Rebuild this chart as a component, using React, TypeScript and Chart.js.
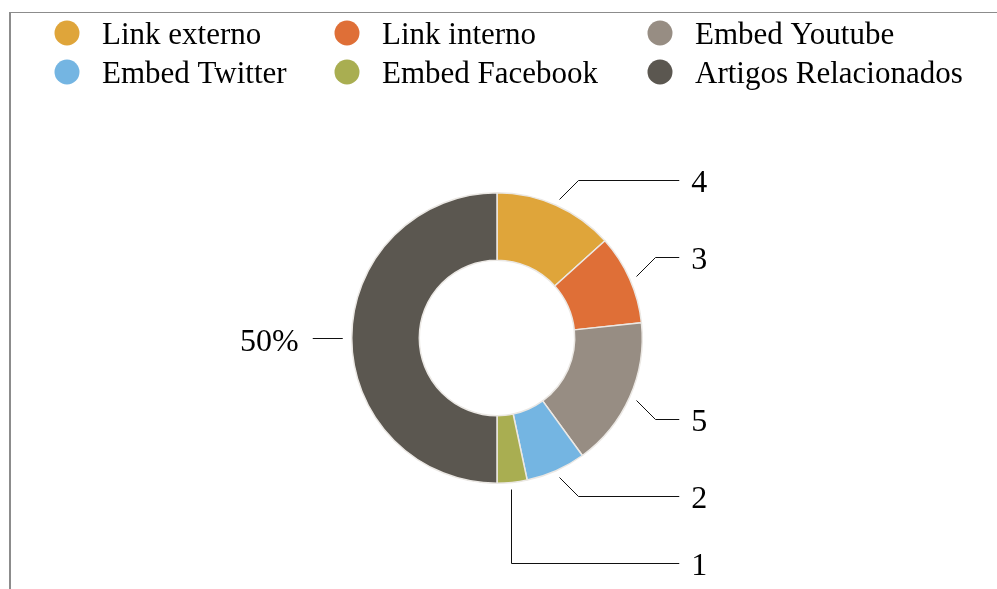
import React, { useEffect, useRef } from "react";
import { Chart, registerables } from "chart.js";

Chart.register(...registerables);

const categories = [
  "Link externo",
  "Link interno",
  "Embed Youtube",
  "Embed Twitter",
  "Embed Facebook",
  "Artigos Relacionados",
];
const values = [4, 3, 5, 2, 1, 15];
const colors = ["#DFA53A", "#DF6F37", "#978D83", "#74B5E2", "#A9AE51", "#5B5750"];
const labelFormats = ["value", "value", "value", "value", "value", "percent"];

const FONT = "'Liberation Serif', 'Times New Roman', serif";

const calloutPlugin = {
  id: "callouts",
  afterDraw(chart: any) {
    const ctx = chart.ctx as CanvasRenderingContext2D;
    const meta = chart.getDatasetMeta(0);
    const data = chart.data.datasets[0].data as number[];
    const total = data.reduce((a, b) => a + b, 0);

    // Legend in a grid
    const colX = [67, 347, 660];
    const rowY = [33, 72];
    ctx.save();
    ctx.font = `31px ${FONT}`;
    ctx.textBaseline = "middle";
    ctx.textAlign = "left";
    categories.forEach((name, i) => {
      const cx = colX[i % 3];
      const cy = rowY[Math.floor(i / 3)];
      ctx.beginPath();
      ctx.arc(cx, cy, 12.5, 0, Math.PI * 2);
      ctx.fillStyle = colors[i];
      ctx.fill();
      ctx.fillStyle = "#000";
      ctx.fillText(name, cx + 35, cy + 3);
    });
    ctx.restore();

    // Callouts
    ctx.save();
    ctx.font = `32px ${FONT}`;
    ctx.strokeStyle = "#111";
    ctx.lineWidth = 1;
    ctx.fillStyle = "#000";
    ctx.textBaseline = "middle";
    let prevRightY = -Infinity;
    meta.data.forEach((arc: any, i: number) => {
      const { x: cx, y: cy, outerRadius: R, startAngle, endAngle } = arc.getProps(
        ["x", "y", "outerRadius", "startAngle", "endAngle"],
        true
      );
      const a = (startAngle + endAngle) / 2;
      const text =
        labelFormats[i] === "percent"
          ? `${Math.round((data[i] / total) * 100)}%`
          : String(data[i]);
      const r0 = R + 7;
      const sx = cx + Math.cos(a) * r0;
      const sy = cy + Math.sin(a) * r0;
      const cosA = Math.cos(a);
      if (cosA > 0.01) {
        const dy = Math.sin(a) >= 0 ? 19 : -19;
        let ly = sy + dy;
        let pushed = false;
        if (ly < prevRightY + 67) {
          ly = prevRightY + 67;
          pushed = true;
        }
        prevRightY = ly;
        const endX = cx + R + 37;
        const px = pushed ? Math.round(sx) - 2 : Math.round(sx);
        ctx.beginPath();
        ctx.moveTo(px + 0.5, Math.round(sy) + 0.5);
        if (pushed) {
          ctx.lineTo(px + 0.5, Math.round(ly) + 0.5);
        } else {
          ctx.lineTo(Math.round(sx + 19) + 0.5, Math.round(ly) + 0.5);
        }
        ctx.lineTo(endX, Math.round(ly) + 0.5);
        ctx.stroke();
        ctx.textAlign = "left";
        ctx.fillText(text, endX + 12, ly + 4);
      } else {
        const ly = Math.round(sy) + 0.5;
        const x1 = cx - R - 9;
        const x2 = cx - R - 39;
        ctx.beginPath();
        ctx.moveTo(x1, ly);
        ctx.lineTo(x2, ly);
        ctx.stroke();
        ctx.textAlign = "right";
        ctx.fillText(text, x2 - 14, ly + 4);
      }
    });
    ctx.restore();
  },
};

export default function App() {
  const ref = useRef<HTMLCanvasElement>(null);
  useEffect(() => {
    if (!ref.current) return;
    const chart = new Chart(ref.current, {
      type: "doughnut",
      data: {
        labels: categories,
        datasets: [
          {
            data: values,
            backgroundColor: colors,
            borderColor: "#ebe8e4",
            borderWidth: 1.5,
          },
        ],
      },
      options: {
        responsive: false,
        animation: false,
        cutout: "53.5%",
        layout: { padding: { top: 192, bottom: 105, left: 100, right: 103 } },
        plugins: {
          legend: { display: false },
          tooltip: { enabled: false },
        },
      },
      plugins: [calloutPlugin],
    });
    return () => chart.destroy();
  }, []);
  return (
    <div
      style={{
        position: "absolute",
        left: 0,
        top: 0,
        width: 997,
        height: 589,
        overflow: "hidden",
        background: "#fff",
      }}
    >
      <div
        style={{
          position: "absolute",
          left: 9,
          top: 12,
          width: 1100,
          height: 700,
          borderLeft: "2px solid #8c8c8c",
          borderTop: "1px solid #8c8c8c",
        }}
      />
      <canvas
        ref={ref}
        width={997}
        height={589}
        style={{ position: "absolute", left: 0, top: 0, width: 997, height: 589 }}
      />
    </div>
  );
}
